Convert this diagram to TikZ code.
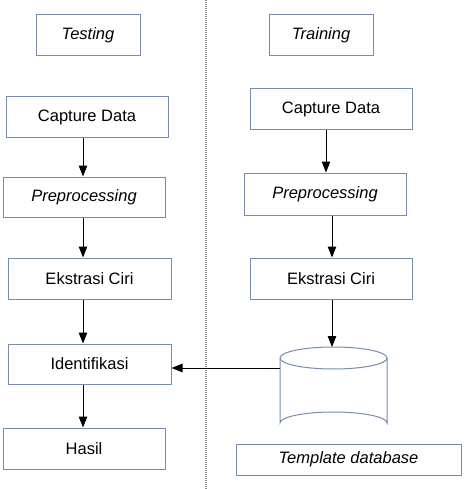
\documentclass[tikz,border=0pt]{standalone}
\usepackage{fontspec}
\setmainfont{Liberation Sans}
\usetikzlibrary{arrows.meta}
\definecolor{boxline}{RGB}{122,140,172}
\definecolor{sepline}{RGB}{140,140,140}
\tikzset{
  box/.style={draw=boxline, line width=1pt, fill=white, inner sep=0pt, minimum height=41pt,
    font=\fontsize{16.5}{20}\selectfont},
  arr/.style={line width=1pt, -{Triangle[length=11pt,width=8.5pt]}},
  sep/.style={draw=sepline, line width=1.2pt, dash pattern=on 1pt off 1pt}
}
\begin{document}
\begin{tikzpicture}[x=1pt,y=-1pt]
\useasboundingbox (0,0) rectangle (466,489);
\coordinate (septop) at (206,0);
\coordinate (sepbot) at (206,489);
\draw[sep] (septop) -- (sepbot);

% left column
\node[box, minimum width=104pt] (test) at (88,35.5) {\itshape Testing};
\node[box, minimum width=162pt] (cap1) at (87,117.5) {Capture Data};
\node[box, minimum width=162pt, minimum height=40pt] (pre1) at (84,197) {\itshape Preprocessing};
\node[box, minimum width=163pt] (eks1) at (89.5,278.5) {Ekstrasi Ciri};
\node[box, minimum width=163pt, minimum height=40pt] (idf) at (89.5,364) {Identifikasi};
\node[box, minimum width=162pt] (hasil) at (84,448.5) {Hasil};

% right column
\node[box, minimum width=104pt] (train) at (321,35.5) {\itshape Training};
\node[box, minimum width=162pt] (cap2) at (331,109.5) {Capture Data};
\node[box, minimum width=162pt, minimum height=42pt] (pre2) at (325,194) {\itshape Preprocessing};
\node[box, minimum width=162pt] (eks2) at (331,278.5) {Ekstrasi Ciri};
\node[box, minimum width=225pt, minimum height=31pt] (tmpl) at (348.5,459.5) {\itshape Template database};

% database cylinder
\coordinate (dbtop) at (333.5,347);
\draw[boxline, line width=1pt, fill=white]
  (280,358) arc[start angle=180, end angle=360, x radius=53.5pt, y radius=-11pt]
  -- (387,423) arc[start angle=0, end angle=-180, x radius=53.5pt, y radius=-11pt] -- cycle;
\draw[boxline, line width=1pt] (280,358) arc[start angle=180, end angle=0, x radius=53.5pt, y radius=-11pt];
\coordinate (dbL) at (280,368);

% arrows left
\draw[arr] (cap1.south -| 83,0) -- (pre1.north -| 83,0);
\draw[arr] (pre1.south -| 83,0) -- (eks1.north -| 83,0);
\draw[arr] (eks1.south -| 83,0) -- (idf.north -| 83,0);
\draw[arr] (idf.south -| 83,0) -- (hasil.north -| 83,0);

% arrows right
\draw[arr] (cap2.south -| 326,0) -- (pre2.north -| 326,0);
\draw[arr] (pre2.south -| 332,0) -- (eks2.north -| 332,0);
\draw[arr] (eks2.south -| 332,0) -- (dbtop -| 332,0);

\draw[arr] (dbL) -- (dbL -| idf.east);
\end{tikzpicture}
\end{document}
